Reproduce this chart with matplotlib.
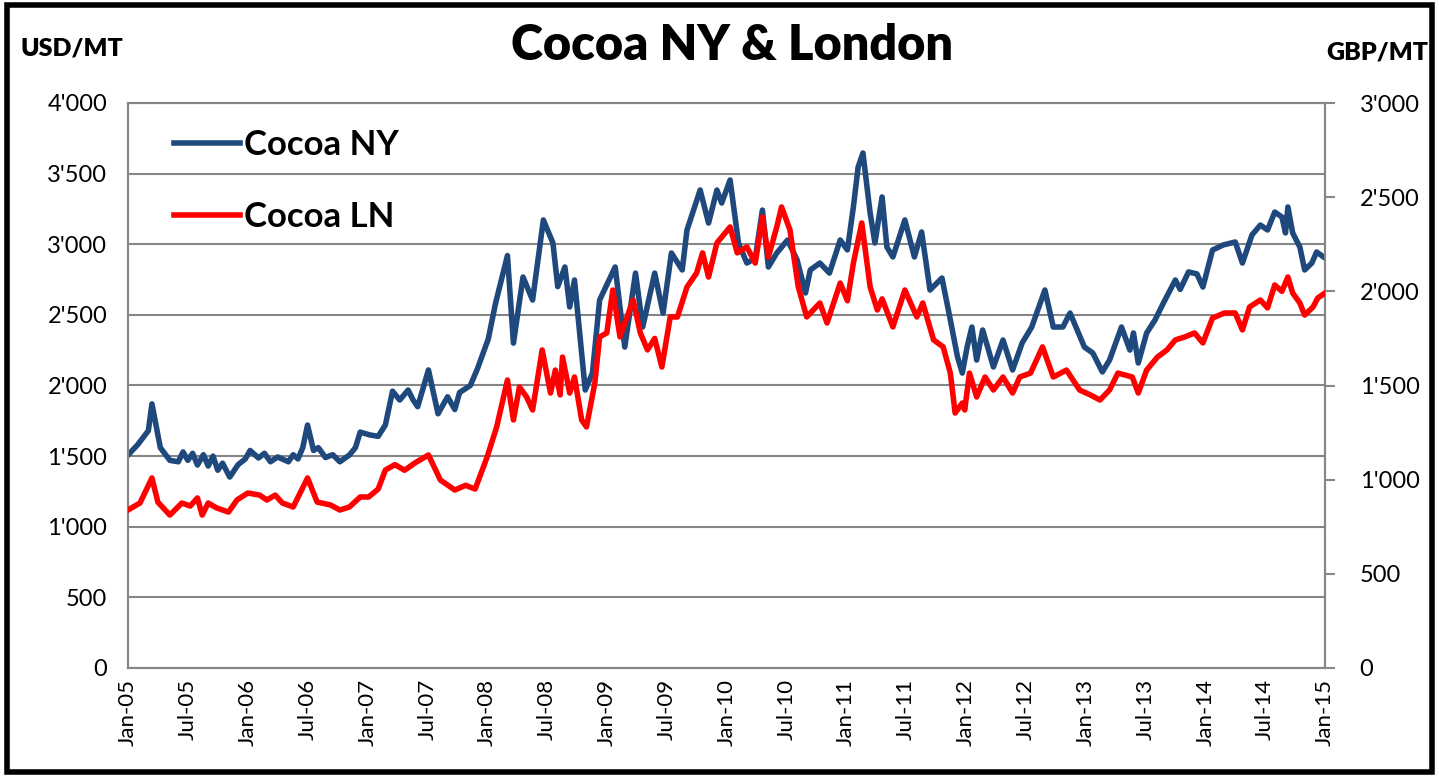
import matplotlib
matplotlib.use("Agg")
import matplotlib.pyplot as plt
from matplotlib.patches import Rectangle
from matplotlib.ticker import FuncFormatter, MultipleLocator

plt.rcParams['font.family'] = ['Lato', 'DejaVu Sans']

# Cocoa NY (USD/MT), time as decimal years
ny_t = [2005.00, 2005.08, 2005.17, 2005.20, 2005.27, 2005.35, 2005.42, 2005.46, 2005.50, 2005.54,
        2005.58, 2005.63, 2005.67, 2005.71, 2005.75, 2005.79, 2005.85, 2005.92, 2005.98, 2006.02,
        2006.09, 2006.14, 2006.19, 2006.25, 2006.34, 2006.38, 2006.42, 2006.46, 2006.50, 2006.55,
        2006.59, 2006.65, 2006.71, 2006.77, 2006.85, 2006.90, 2006.94, 2007.02, 2007.09, 2007.15,
        2007.21, 2007.27, 2007.34, 2007.38, 2007.42, 2007.51, 2007.59, 2007.67, 2007.73, 2007.77,
        2007.86, 2007.92, 2008.01, 2008.07, 2008.17, 2008.22, 2008.30, 2008.38, 2008.47, 2008.55,
        2008.59, 2008.65, 2008.69, 2008.73, 2008.82, 2008.88, 2008.94, 2009.07, 2009.15, 2009.24,
        2009.30, 2009.40, 2009.47, 2009.54, 2009.63, 2009.67, 2009.78, 2009.85, 2009.92, 2009.96,
        2010.03, 2010.10, 2010.17, 2010.24, 2010.30, 2010.35, 2010.42, 2010.51, 2010.59, 2010.66,
        2010.70, 2010.78, 2010.86, 2010.95, 2011.01, 2011.06, 2011.10, 2011.14, 2011.20, 2011.24,
        2011.30, 2011.34, 2011.39, 2011.49, 2011.57, 2011.63, 2011.70, 2011.80, 2011.87, 2011.93,
        2011.97, 2012.01, 2012.05, 2012.09, 2012.14, 2012.23, 2012.31, 2012.39, 2012.47, 2012.55,
        2012.66, 2012.73, 2012.81, 2012.87, 2012.93, 2012.99, 2013.06, 2013.14, 2013.20, 2013.30,
        2013.37, 2013.40, 2013.44, 2013.51, 2013.58, 2013.65, 2013.75, 2013.79, 2013.86, 2013.93,
        2013.98, 2014.06, 2014.15, 2014.25, 2014.31, 2014.39, 2014.46, 2014.52, 2014.58, 2014.64,
        2014.67, 2014.69, 2014.73, 2014.79, 2014.83, 2014.89, 2014.93, 2015.00]
ny_val = [1508, 1580, 1680, 1870, 1560, 1470, 1460, 1530, 1470, 1520,
          1437, 1510, 1430, 1500, 1400, 1450, 1352, 1440, 1480, 1540,
          1487, 1520, 1460, 1494, 1460, 1510, 1480, 1560, 1720, 1540,
          1560, 1490, 1510, 1460, 1508, 1560, 1670, 1650, 1640, 1720,
          1960, 1897, 1968, 1900, 1850, 2110, 1800, 1920, 1830, 1950,
          2000, 2120, 2330, 2580, 2920, 2300, 2768, 2605, 3172, 3009,
          2700, 2839, 2556, 2747, 1968, 2088, 2605, 2839, 2272, 2796,
          2414, 2796, 2513, 2938, 2818, 3101, 3384, 3150, 3384, 3292,
          3455, 3009, 2867, 2900, 3242, 2839, 2938, 3030, 2888, 2655,
          2818, 2867, 2796, 3030, 2960, 3264, 3547, 3646, 3221, 3009,
          3335, 2980, 2910, 3172, 2910, 3087, 2676, 2761, 2464, 2202,
          2088, 2272, 2414, 2180, 2393, 2131, 2322, 2110, 2301, 2414,
          2676, 2414, 2414, 2513, 2393, 2272, 2230, 2096, 2180, 2414,
          2251, 2372, 2159, 2372, 2464, 2584, 2747, 2680, 2804, 2790,
          2697, 2959, 2995, 3016, 2867, 3066, 3136, 3101, 3228, 3193,
          3080, 3264, 3080, 2980, 2818, 2867, 2945, 2903]

# Cocoa LN (GBP/MT)
ln_t = [2005.00, 2005.10, 2005.20, 2005.25, 2005.35, 2005.45, 2005.52, 2005.58, 2005.62, 2005.67,
        2005.74, 2005.84, 2005.91, 2006.00, 2006.10, 2006.16, 2006.23, 2006.29, 2006.38, 2006.50,
        2006.58, 2006.69, 2006.77, 2006.85, 2006.94, 2007.01, 2007.09, 2007.15, 2007.23, 2007.31,
        2007.40, 2007.51, 2007.61, 2007.73, 2007.82, 2007.90, 2008.00, 2008.08, 2008.17, 2008.22,
        2008.27, 2008.33, 2008.38, 2008.46, 2008.53, 2008.57, 2008.61, 2008.63, 2008.69, 2008.73,
        2008.79, 2008.83, 2008.90, 2008.94, 2009.00, 2009.05, 2009.11, 2009.22, 2009.28, 2009.34,
        2009.40, 2009.46, 2009.53, 2009.59, 2009.67, 2009.75, 2009.80, 2009.85, 2009.92, 2010.03,
        2010.09, 2010.17, 2010.24, 2010.30, 2010.35, 2010.42, 2010.46, 2010.53, 2010.60, 2010.67,
        2010.78, 2010.84, 2010.95, 2011.01, 2011.06, 2011.13, 2011.20, 2011.26, 2011.30, 2011.39,
        2011.49, 2011.59, 2011.64, 2011.73, 2011.81, 2011.87, 2011.91, 2011.97, 2011.99, 2012.03,
        2012.09, 2012.16, 2012.23, 2012.31, 2012.39, 2012.45, 2012.54, 2012.64, 2012.73, 2012.84,
        2012.95, 2013.04, 2013.12, 2013.20, 2013.27, 2013.39, 2013.44, 2013.51, 2013.60, 2013.68,
        2013.75, 2013.83, 2013.91, 2013.98, 2014.06, 2014.16, 2014.25, 2014.31, 2014.37, 2014.46,
        2014.52, 2014.58, 2014.64, 2014.69, 2014.73, 2014.79, 2014.83, 2014.90, 2014.94, 2015.00]
ln_val = [839, 876, 1009, 880, 812, 876, 860, 903, 812, 876,
          850, 828, 892, 929, 918, 892, 918, 876, 855, 1009,
          881, 866, 839, 855, 908, 908, 950, 1051, 1080, 1050,
          1090, 1131, 998, 945, 970, 950, 1120, 1280, 1529, 1317,
          1492, 1439, 1370, 1689, 1460, 1582, 1450, 1651, 1460, 1545,
          1317, 1280, 1513, 1758, 1779, 2007, 1758, 1954, 1779, 1689,
          1750, 1598, 1864, 1864, 2023, 2097, 2204, 2076, 2257, 2342,
          2204, 2236, 2150, 2395, 2182, 2342, 2448, 2326, 2023, 1864,
          1938, 1832, 2044, 1950, 2150, 2363, 2023, 1901, 1960, 1811,
          2007, 1864, 1938, 1742, 1705, 1566, 1354, 1407, 1370, 1566,
          1439, 1545, 1476, 1545, 1460, 1545, 1566, 1705, 1545, 1582,
          1476, 1450, 1423, 1476, 1566, 1545, 1460, 1582, 1651, 1689,
          1742, 1758, 1779, 1726, 1858, 1885, 1885, 1795, 1917, 1954,
          1912, 2034, 2000, 2076, 1991, 1938, 1874, 1917, 1965, 1991]

tick_pos = [2005 + 0.5 * i for i in range(21)]
tick_labels = [("Jan-" if i % 2 == 0 else "Jul-") + "%02d" % (5 + i // 2) for i in range(21)]

NY_COLOR = "#1F497D"
LN_COLOR = "#FF0000"
GRID = "#868686"


def apostrophe(v, pos):
    return "{:,.0f}".format(v).replace(",", "'")


fig = plt.figure(figsize=(14.39, 7.77), dpi=100)
ax = fig.add_axes([128 / 1439, 1 - 668 / 777, 1197 / 1439, 565 / 777])
ax2 = ax.twinx()

l1, = ax.plot(ny_t, ny_val, color=NY_COLOR, lw=4, label="Cocoa NY", zorder=3)
l2, = ax2.plot(ln_t, ln_val, color=LN_COLOR, lw=4, label="Cocoa LN", zorder=3)

ax.set_xlim(2005, 2015)
ax.set_ylim(0, 4000)
ax2.set_ylim(0, 3000)
ax.yaxis.set_major_locator(MultipleLocator(500))
ax2.yaxis.set_major_locator(MultipleLocator(500))
ax.yaxis.set_major_formatter(FuncFormatter(apostrophe))
ax2.yaxis.set_major_formatter(FuncFormatter(apostrophe))
ax.set_xticks(tick_pos)
ax.set_xticklabels(tick_labels, rotation=90)

ax.grid(axis="y", color=GRID, lw=1.5)
ax.set_axisbelow(True)
for a in (ax, ax2):
    for s in a.spines.values():
        s.set_color(GRID)
        s.set_linewidth(1.5)

ax.tick_params(axis="y", length=0, labelsize=17, pad=15)
ax.tick_params(axis="x", length=0, labelsize=16, pad=8)
ax2.tick_params(axis="y", length=7, width=1.5, color=GRID, labelsize=17, pad=18)

leg = ax.legend(handles=[l1, l2], loc="upper left", bbox_to_anchor=(0.024, 0.985),
                frameon=False, prop={"size": 25, "weight": "bold"},
                handlelength=1.9, handletextpad=0.1, labelspacing=1.15, borderpad=0)

fig.text(0.509, 0.942, "Cocoa NY & London", ha="center", va="center",
         fontsize=35, fontweight="heavy")
fig.text(20 / 1439, 0.937, "USD/MT", ha="left", va="center", fontsize=18, fontweight="heavy")
fig.text(1428 / 1439, 0.932, "GBP/MT", ha="right", va="center", fontsize=18, fontweight="heavy")

fig.patches.append(Rectangle((0.005, 0.006), 0.99, 0.988, transform=fig.transFigure,
                             fill=False, edgecolor="black", lw=4))

fig.savefig("out.png", dpi=100)
